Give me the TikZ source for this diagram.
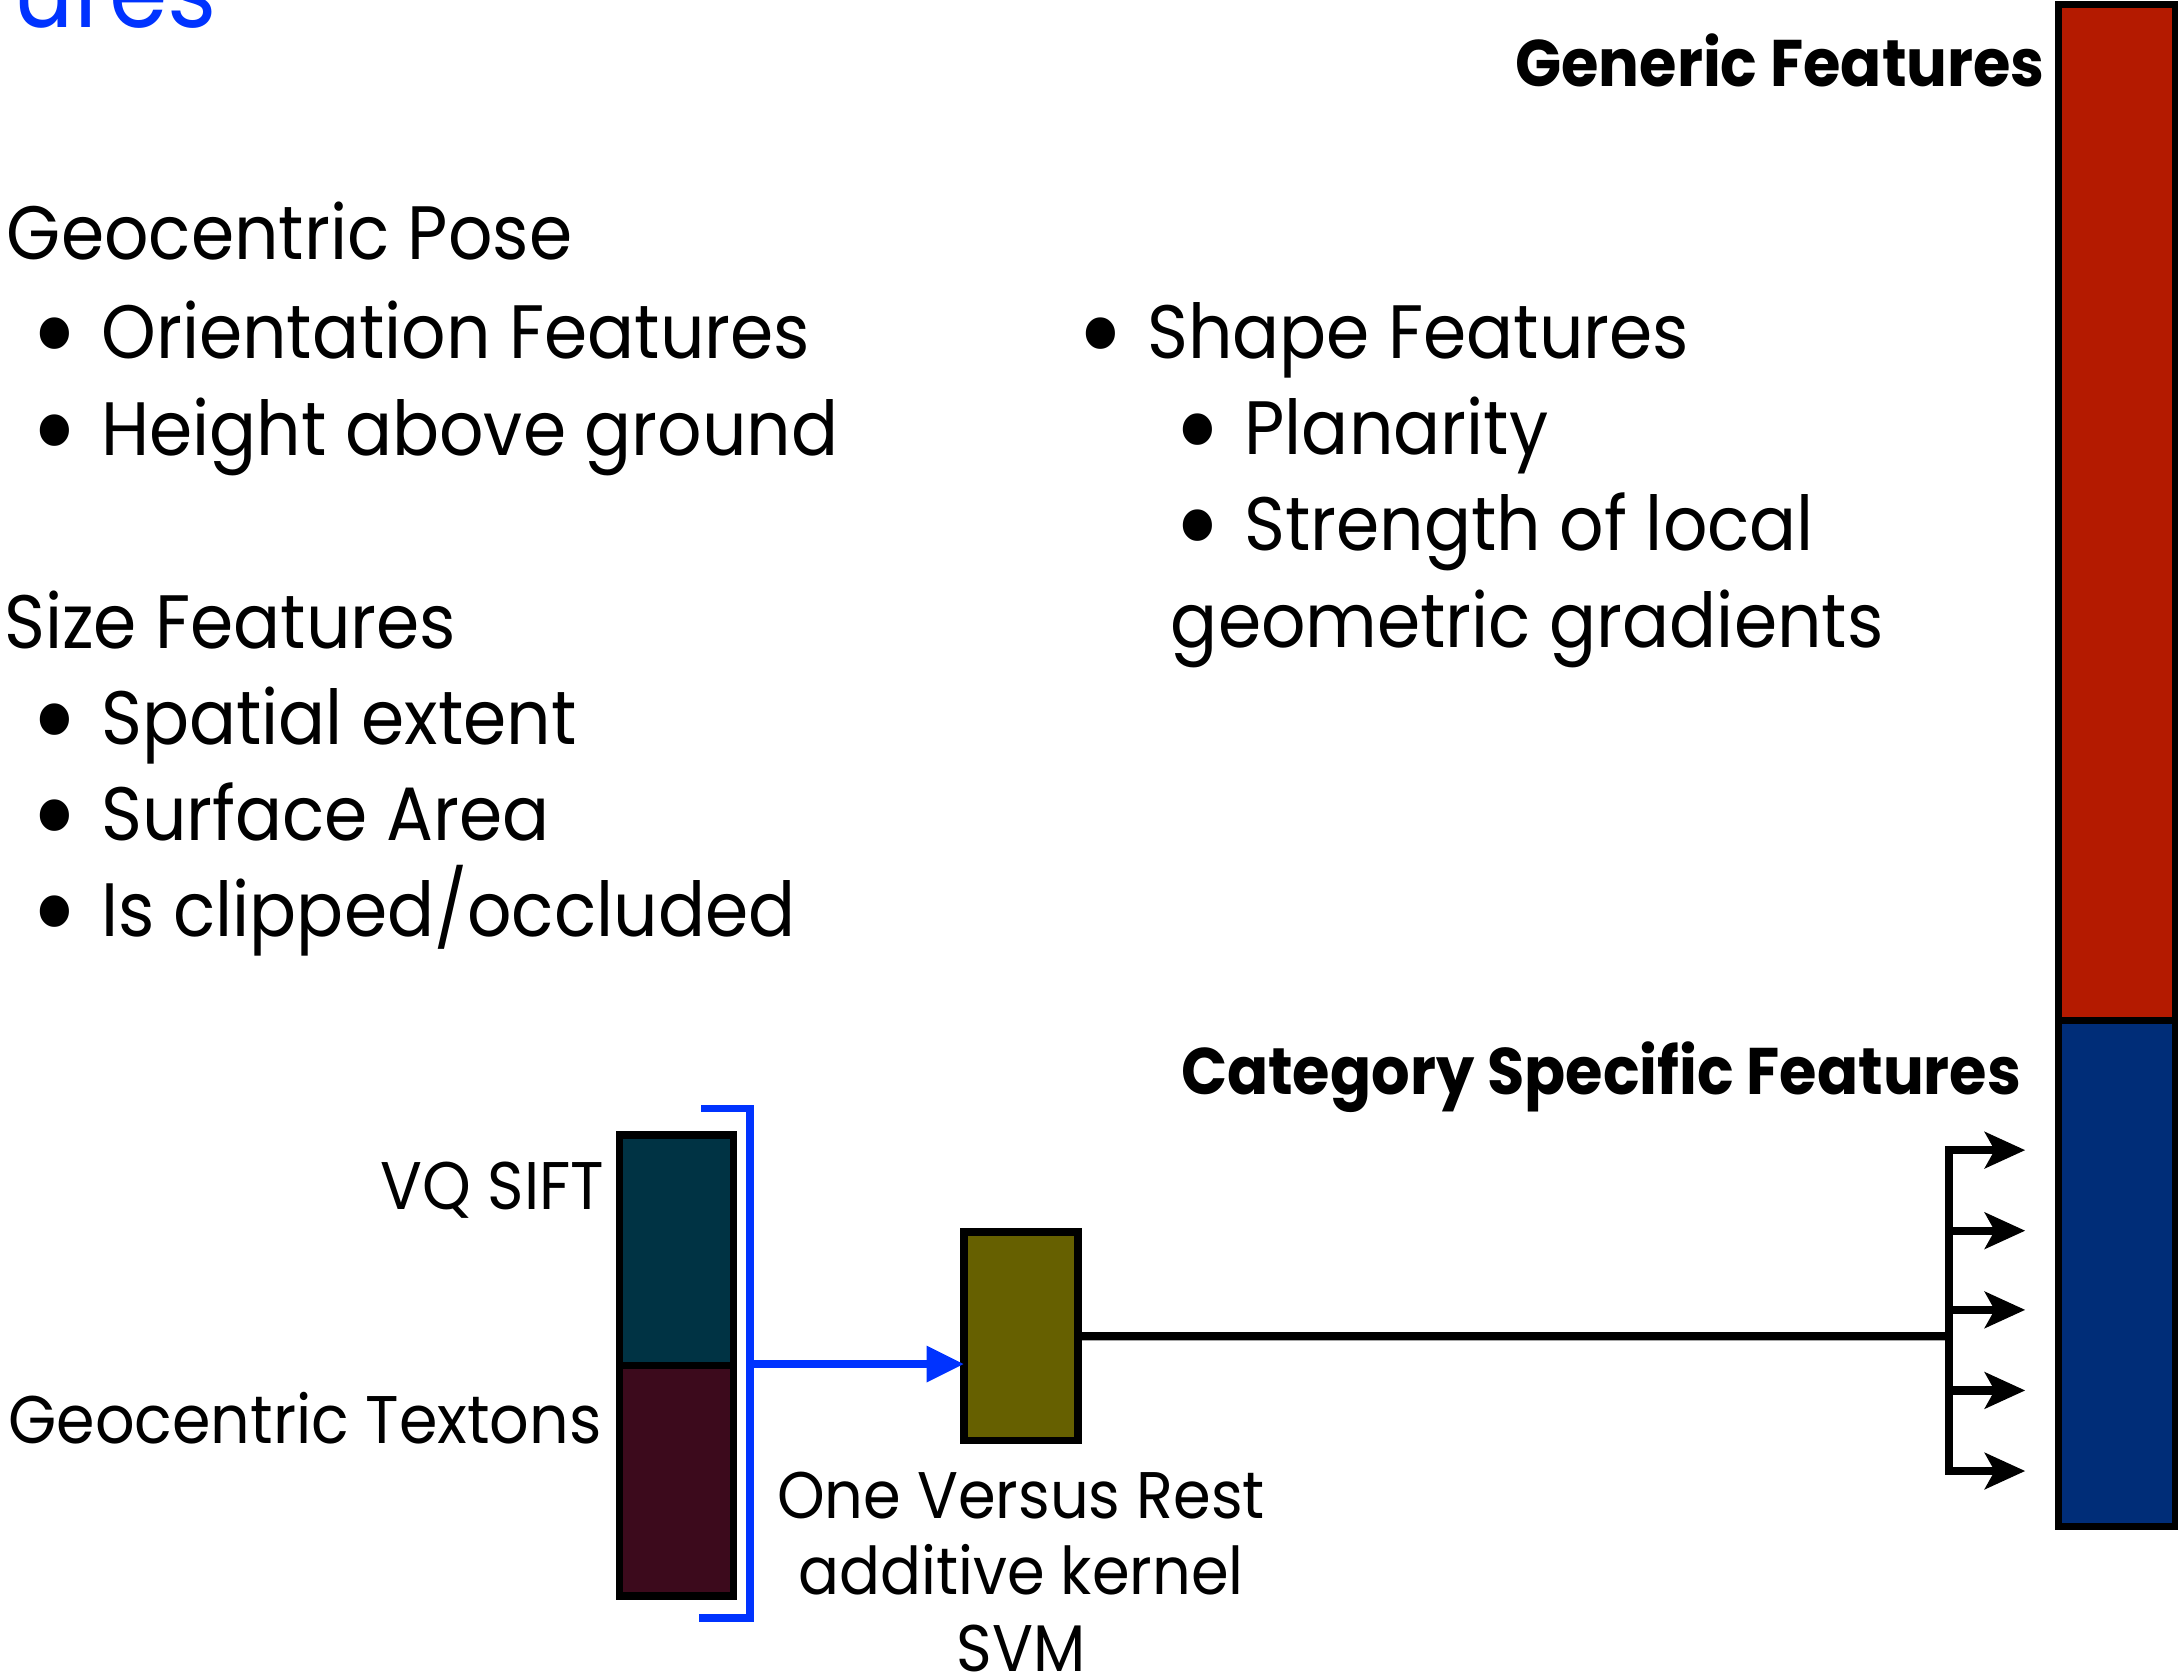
\documentclass[tikz,border=0pt]{standalone}
\usepackage{fontspec}
\setmainfont{Poppins}[FakeStretch=0.92]
\usetikzlibrary{arrows.meta,positioning}
\definecolor{gencol}{RGB}{180,26,0}
\definecolor{catcol}{RGB}{0,45,120}
\definecolor{siftcol}{RGB}{0,51,68}
\definecolor{textoncol}{RGB}{60,10,28}
\definecolor{svmcol}{RGB}{102,96,0}
\definecolor{linkblue}{RGB}{0,51,255}
\newcommand{\bodyfont}{\fontsize{31}{37}\selectfont}
\newcommand{\lblfont}{\fontsize{27.6}{33}\selectfont}
\newcommand{\hdrfont}{\fontsize{27}{32}\selectfont\bfseries}
\newcommand{\itm}{\makebox[1.02cm][l]{\smash{\raisebox{-0.24em}{\scalebox{1.7}{\textbullet}}}}}

\begin{document}
\begin{tikzpicture}[x=0.02cm, y=-0.02cm, every node/.style={inner sep=0pt, outer sep=0pt},
 txt/.style={anchor=base west, font=\bodyfont},
 rtxt/.style={anchor=base east, font=\lblfont},
 hdr/.style={anchor=base east, font=\hdrfont},
 featbox/.style={draw=black, line width=3pt, minimum width=1.64cm},
 bluelink/.style={draw=linkblue, line width=3.2pt},
 blacklink/.style={draw=black, line width=3.4pt}]
\useasboundingbox (0,0) rectangle (1568,1208);

\node[anchor=base west, font=\fontsize{42}{50}\selectfont, text=linkblue] (title) at (10,20) {ures};

% generic feature lists
\node[txt] (pose) at (5,187) {Geocentric Pose};
\node[txt] (orient) at (22,258) {\itm Orientation Features};
\node[txt] (height) at (22,328) {\itm Height above ground};
\node[txt] (size) at (3,467) {Size Features};
\node[txt] (extent) at (22,536) {\itm Spatial extent};
\node[txt] (area) at (22,605) {\itm Surface Area};
\node[txt] (clip) at (22,674) {\itm Is clipped/occluded};
\node[txt] (shape) at (775,258) {\itm Shape Features};
\node[txt] (planar) at (845,327) {\itm Planarity};
\node[txt] (strength) at (845,396) {\itm Strength of local};
\node[txt] (gradient) at (843,466) {geometric gradients};

% feature vector
\node[featbox, fill=gencol, minimum width=1.68cm, minimum height=14.64cm, anchor=north west] (generic) at (1482,3) {};
\node[featbox, fill=catcol, minimum width=1.68cm, minimum height=7.28cm, below=0pt of generic] (catspec) {};
\node[hdr] (genlbl) at (1472,62) {Generic Features};
\node[hdr] (catlbl) at (1455,788) {Category Specific Features};

% category specific part
\node[featbox, fill=siftcol, minimum height=3.32cm, anchor=north west] (sift) at (446,817) {};
\node[featbox, fill=textoncol, minimum height=3.32cm, below=0pt of sift] (texton) {};
\node[rtxt] (siftlbl) at (435,871) {VQ SIFT};
\node[rtxt] (textonlbl) at (433,1039) {Geocentric Textons};
\node[featbox, fill=svmcol, minimum height=3cm, anchor=north west] (svm) at (694,887) {};
\node[anchor=base, font=\fontsize{27}{31.3}\selectfont, align=center] (svmlbl) at (735,1203) {One Versus Rest\\additive kernel\\SVM};

\coordinate (brtl) at (505,798);
\coordinate (brtr) at (540,798);
\coordinate (brbr) at (540,1165);
\coordinate (brbl) at (503,1165);
\coordinate (brmid) at (540,982);
\draw[bluelink] (brtl) -- (brtr) -- (brbr) -- (brbl);
\draw[bluelink, -{Triangle[length=0.54cm,width=0.5cm]}] (brmid) -- (brmid -| svm.west);

\coordinate (fan) at (1403,962);
\coordinate (fantop) at (1403,828);
\coordinate (fanbot) at (1403,1059);
\draw[blacklink] (svm.east) -- (fan);
\draw[blacklink, line cap=rect] (fantop) -- (fanbot);
\foreach \y [count=\i] in {828,886,943,1001,1059} {
  \coordinate (fs\i) at (1403,\y);
  \coordinate (fe\i) at (1458,\y);
  \draw[blacklink, -{Stealth[length=0.58cm,width=0.52cm,inset=0.14cm]}] (fs\i) -- (fe\i);
}
\end{tikzpicture}
\end{document}
